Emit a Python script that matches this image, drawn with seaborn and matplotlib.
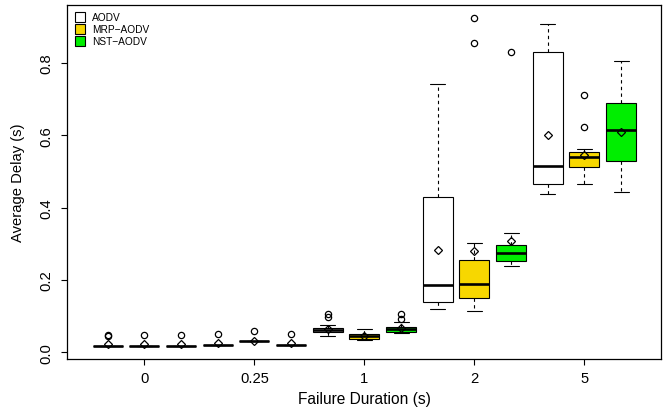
import matplotlib
matplotlib.use("Agg")
import matplotlib.pyplot as plt
from matplotlib.lines import Line2D
import seaborn as sns
import pandas as pd

# Failure durations (s) and routing protocols
durations = ["0", "0.25", "1", "2", "5"]
protocols = ["AODV", "MRP\u2212AODV", "NST\u2212AODV"]
colors = ["#FFFFFF", "#F7D700", "#00EE00"]

# Average delay (s) per run, one list per failure duration
aodv_delay = [
    [0.018, 0.018, 0.018, 0.018, 0.018, 0.018, 0.018, 0.018, 0.018, 0.018, 0.018, 0.044, 0.048],
    [0.021, 0.021, 0.021, 0.021, 0.021, 0.021, 0.021, 0.021, 0.021, 0.021, 0.021, 0.021, 0.051],
    [0.046, 0.050, 0.053, 0.055, 0.058, 0.060, 0.0625, 0.064, 0.066, 0.068, 0.075, 0.098, 0.107],
    [0.119, 0.125, 0.132, 0.139, 0.150, 0.168, 0.185, 0.220, 0.300, 0.429, 0.520, 0.610, 0.743],
    [0.437, 0.447, 0.456, 0.466, 0.480, 0.498, 0.515, 0.600, 0.720, 0.831, 0.860, 0.885, 0.907],
]
mrp_delay = [
    [0.018, 0.018, 0.018, 0.018, 0.018, 0.018, 0.018, 0.018, 0.018, 0.018, 0.018, 0.018, 0.048],
    [0.031, 0.031, 0.031, 0.031, 0.031, 0.031, 0.031, 0.031, 0.031, 0.031, 0.031, 0.031, 0.058],
    [0.035, 0.036, 0.036, 0.037, 0.040, 0.042, 0.044, 0.046, 0.048, 0.0506, 0.055, 0.060, 0.065],
    [0.114, 0.128, 0.140, 0.150, 0.165, 0.178, 0.190, 0.210, 0.235, 0.256, 0.302, 0.855, 0.926],
    [0.467, 0.490, 0.502, 0.512, 0.522, 0.531, 0.539, 0.544, 0.549, 0.554, 0.563, 0.623, 0.712],
]
nst_delay = [
    [0.018, 0.018, 0.018, 0.018, 0.018, 0.018, 0.018, 0.018, 0.018, 0.018, 0.018, 0.018, 0.048],
    [0.021, 0.021, 0.021, 0.021, 0.021, 0.021, 0.021, 0.021, 0.021, 0.021, 0.021, 0.021, 0.0515],
    [0.054, 0.055, 0.056, 0.057, 0.059, 0.061, 0.0636, 0.065, 0.067, 0.069, 0.085, 0.093, 0.107],
    [0.238, 0.243, 0.248, 0.253, 0.260, 0.268, 0.274, 0.282, 0.290, 0.297, 0.315, 0.330, 0.831],
    [0.444, 0.480, 0.505, 0.528, 0.560, 0.590, 0.615, 0.640, 0.665, 0.690, 0.730, 0.770, 0.806],
]

# Mean delay per protocol and duration (diamond markers)
aodv_mean = [0.022, 0.025, 0.064, 0.284, 0.602]
mrp_mean = [0.022, 0.030, 0.045, 0.279, 0.545]
nst_mean = [0.022, 0.025, 0.066, 0.307, 0.609]

rows = []
for proto, runs in zip(protocols, [aodv_delay, mrp_delay, nst_delay]):
    for dur, vals in zip(durations, runs):
        for v in vals:
            rows.append({"duration": dur, "protocol": proto, "delay": v})
df = pd.DataFrame(rows)

sns.set_style("ticks")
plt.rcParams["font.family"] = ["Liberation Sans", "DejaVu Sans"]
plt.rcParams["text.color"] = "black"
plt.rcParams["axes.labelcolor"] = "black"
plt.rcParams["xtick.color"] = "black"
plt.rcParams["ytick.color"] = "black"

fig = plt.figure(figsize=(6.63, 4.14), dpi=100)
ax = fig.add_axes([0.1015, 0.1304, 0.8962, 0.8558])

sns.boxplot(
    data=df, x="duration", y="delay", hue="protocol",
    order=durations, hue_order=protocols, palette=colors,
    saturation=1, width=1.0, gap=0.18, whis=1.5,
    linecolor="black", linewidth=0.8, legend=False, ax=ax,
    medianprops=dict(color="black", linewidth=1.9),
    whiskerprops=dict(color="black", linestyle=(0, (3, 3)), linewidth=0.8),
    capprops=dict(color="black", linewidth=0.8),
    flierprops=dict(marker="o", markerfacecolor="none", markeredgecolor="black",
                    markersize=4.5, markeredgewidth=0.9),
)

# Mean markers at the dodged box positions
offsets = [-1 / 3, 0.0, 1 / 3]
for off, means in zip(offsets, [aodv_mean, mrp_mean, nst_mean]):
    xs = [i + off for i in range(len(durations))]
    ax.plot(xs, means, linestyle="none", marker="D", markersize=4,
            markerfacecolor="none", markeredgecolor="black", markeredgewidth=0.9)

ax.set_xlim(-0.7, 4.7)
ax.set_ylim(-0.0185, 0.9616)
ax.set_yticks([0.0, 0.2, 0.4, 0.6, 0.8])
ax.set_yticklabels(["0.0", "0.2", "0.4", "0.6", "0.8"], rotation=90, va="center")
ax.set_xlabel("Failure Duration (s)", fontsize=11.2, labelpad=5)
ax.set_ylabel("Average Delay (s)", fontsize=10.6)
ax.yaxis.set_label_coords(-0.071, 0.5)
ax.tick_params(axis="both", labelsize=10.6, length=4.3, width=0.8,
               direction="out", color="black", labelcolor="black")
ax.tick_params(axis="y", pad=5.5)
ax.tick_params(axis="x", pad=4)
for s in ax.spines.values():
    s.set_visible(True)
    s.set_color("black")
    s.set_linewidth(0.9)

handles = [Line2D([], [], linestyle="none", marker="s", markersize=6.5,
                  markerfacecolor=c, markeredgecolor="black", markeredgewidth=0.8)
           for c in colors]
ax.legend(handles, protocols, loc="upper left", frameon=False, fontsize=7.3,
          handlelength=1.0, handletextpad=0.65, labelspacing=0.2,
          borderaxespad=0.45, borderpad=0.3, labelcolor="black")

fig.savefig("out.png", dpi=100)
